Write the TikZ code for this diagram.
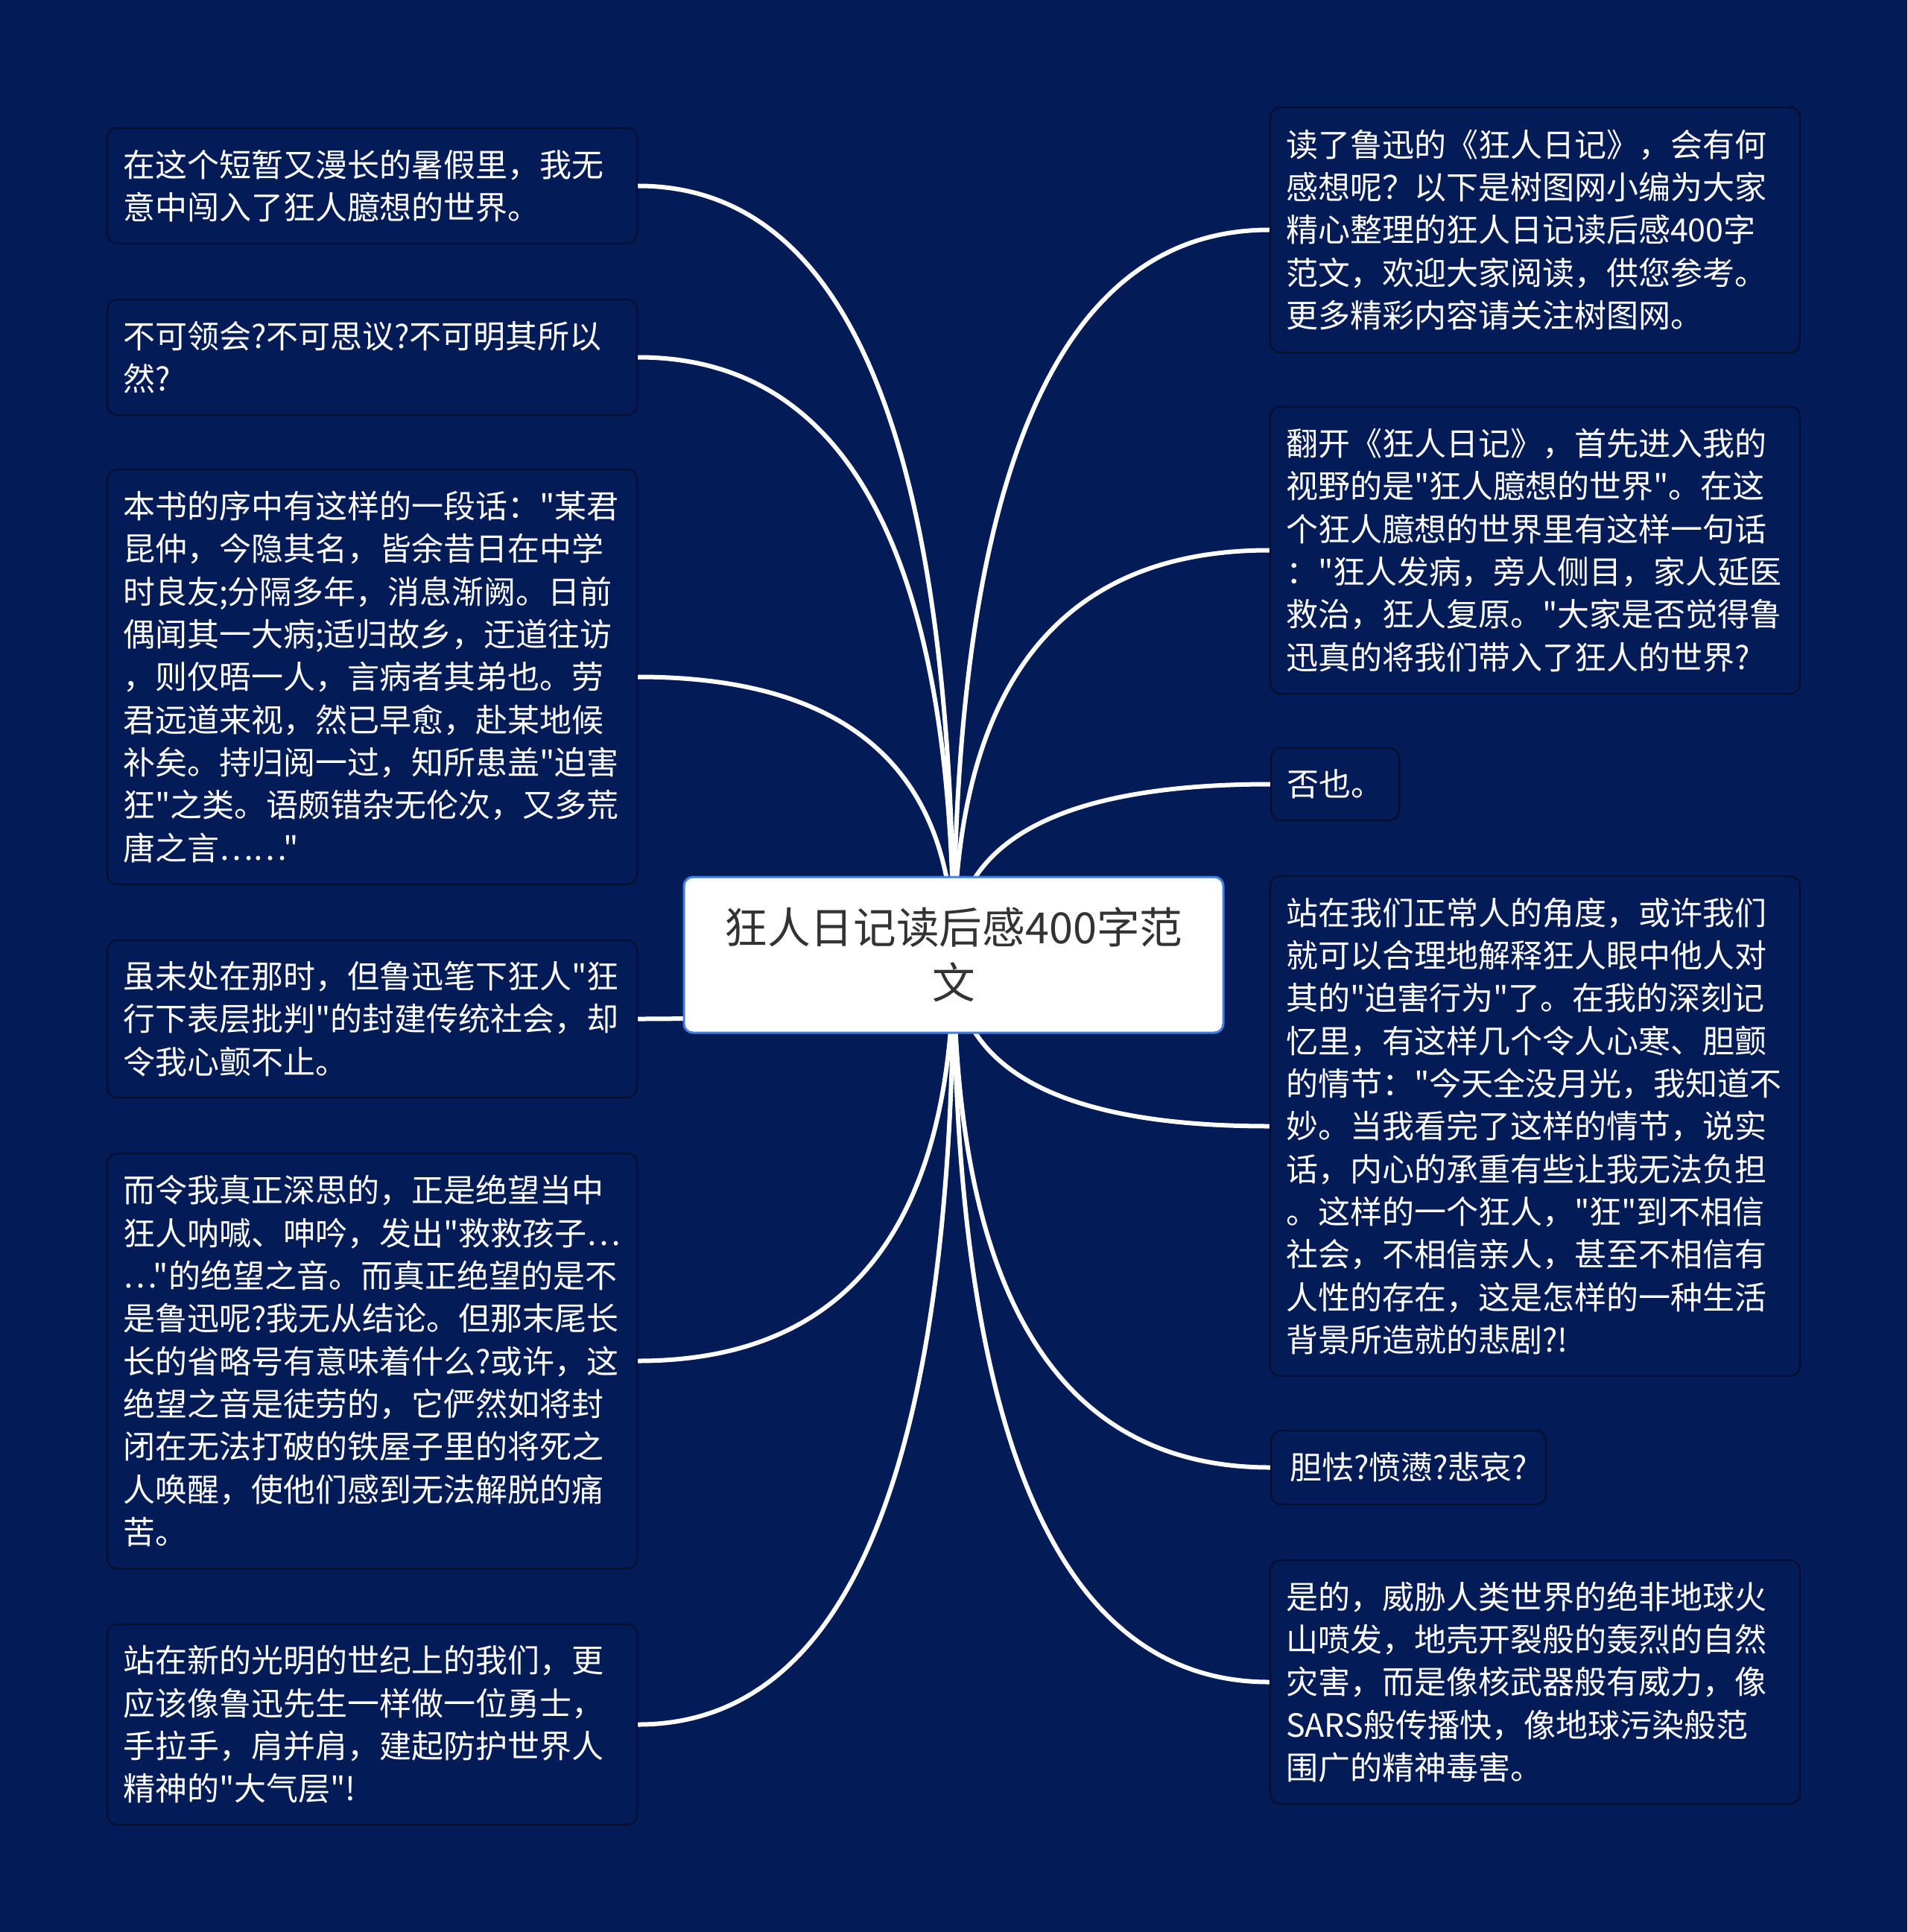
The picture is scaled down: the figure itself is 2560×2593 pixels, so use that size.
\documentclass[tikz,border=0pt]{standalone}
\usepackage{fontspec}
\setmainfont{Noto Sans CJK SC}[Ligatures=TeXOff]
\usetikzlibrary{calc,backgrounds}
\definecolor{bg}{RGB}{3,27,86}
\definecolor{boxline}{RGB}{8,14,48}
\definecolor{rootline}{RGB}{64,128,224}
\definecolor{roottext}{RGB}{51,51,51}
\newcommand\leaffont{\fontsize{12.9pt}{17.2pt}\selectfont}
\newcommand\rootfont{\fontsize{17.3pt}{22.3pt}\selectfont}
\tikzset{
  leaf/.style={draw=boxline, line width=0.7pt, fill=bg, rounded corners=4pt,
    text=white, font=\leaffont, align=left, inner xsep=6.3pt, inner ysep=0pt},
  wide/.style={leaf, text width=200.7pt},
  rootbox/.style={draw=rootline, line width=0.9pt, fill=white, rounded corners=3.6pt,
    text=roottext, font=\rootfont, align=center, minimum width=217.2pt, minimum height=62.7pt, inner sep=0pt},
  conn/.style={draw=white, line width=1.8pt}
}
\begin{document}
\begin{tikzpicture}[x=0.3pt,y=-0.3pt]
\useasboundingbox (0,0) rectangle (2560,2593);
\node[rootbox] (root) at (1280,1281.5) {狂人日记读后感400字范\\文};
% left
\node[wide, minimum height=46.5pt] (L1) at (499.5,249.5) {在这个短暂又漫长的暑假里，我无\\意中闯入了狂人臆想的世界。};
\node[wide, minimum height=46.5pt] (L2) at (499.5,479.5) {不可领会?不可思议?不可明其所以\\然?};
\node[wide, minimum height=167.1pt] (L3) at (499.5,908.5) {本书的序中有这样的一段话："某君\\昆仲，今隐其名，皆余昔日在中学\\时良友;分隔多年，消息渐阙。日前\\偶闻其一大病;适归故乡，迂道往访\\，则仅晤一人，言病者其弟也。劳\\君远道来视，然已早愈，赴某地候\\补矣。持归阅一过，知所患盖"迫害\\狂"之类。语颇错杂无伦次，又多荒\\唐之言……"};
\node[wide, minimum height=63.3pt] (L4) at (499.5,1367.5) {虽未处在那时，但鲁迅笔下狂人"狂\\行下表层批判"的封建传统社会，却\\令我心颤不止。};
\node[wide, minimum height=167.1pt] (L5) at (499.5,1826.5) {而令我真正深思的，正是绝望当中\\狂人呐喊、呻吟，发出"救救孩子…\\…"的绝望之音。而真正绝望的是不\\是鲁迅呢?我无从结论。但那末尾长\\长的省略号有意味着什么?或许，这\\绝望之音是徒劳的，它俨然如将封\\闭在无法打破的铁屋子里的将死之\\人唤醒，使他们感到无法解脱的痛\\苦。};
\node[wide, minimum height=80.7pt] (L6) at (499.5,2314.5) {站在新的光明的世纪上的我们，更\\应该像鲁迅先生一样做一位勇士，\\手拉手，肩并肩，建起防护世界人\\精神的"大气层"!};
% right
\node[wide, minimum height=98.7pt] (R1) at (2060.5,308.5) {读了鲁迅的《狂人日记》，会有何\\感想呢？以下是树图网小编为大家\\精心整理的狂人日记读后感400字\\范文，欢迎大家阅读，供您参考。\\更多精彩内容请关注树图网。};
\node[wide, minimum height=115.5pt] (R2) at (2060.5,738.5) {翻开《狂人日记》，首先进入我的\\视野的是"狂人臆想的世界"。在这\\个狂人臆想的世界里有这样一句话\\："狂人发病，旁人侧目，家人延医\\救治，狂人复原。"大家是否觉得鲁\\迅真的将我们带入了狂人的世界?};
\node[leaf, minimum height=29.1pt, minimum width=51.6pt, anchor=west] (R3) at (1705,1052.5) {否也。};
\node[wide, minimum height=201.3pt] (R4) at (2060.5,1511.5) {站在我们正常人的角度，或许我们\\就可以合理地解释狂人眼中他人对\\其的"迫害行为"了。在我的深刻记\\忆里，有这样几个令人心寒、胆颤\\的情节："今天全没月光，我知道不\\妙。当我看完了这样的情节，说实\\话，内心的承重有些让我无法负担\\。这样的一个狂人，"狂"到不相信\\社会，不相信亲人，甚至不相信有\\人性的存在，这是怎样的一种生活\\背景所造就的悲剧?!};
\node[leaf, minimum height=29.7pt, minimum width=110.7pt, anchor=west] (R5) at (1705,1969.5) {胆怯?愤懑?悲哀?};
\node[wide, minimum height=98.1pt] (R6) at (2060.5,2257.5) {是的，威胁人类世界的绝非地球火\\山喷发，地壳开裂般的轰烈的自然\\灾害，而是像核武器般有威力，像\\SARS般传播快，像地球污染般范\\围广的精神毒害。};
\begin{scope}[on background layer]
\fill[bg] (0,0) rectangle (2560,2593);
\foreach \nm/\an in {L1/east,L2/east,L3/east,L4/east,L5/east,L6/east,R1/west,R2/west,R3/west,R4/west,R5/west,R6/west}{
  \coordinate (kk) at (root.center |- \nm.\an);
  \draw[conn] (root.center) .. controls ($(root.center)!0.6667!(kk)$) and ($(\nm.\an)!0.6667!(kk)$) .. (\nm.\an);
}
\end{scope}
\end{tikzpicture}
\end{document}
